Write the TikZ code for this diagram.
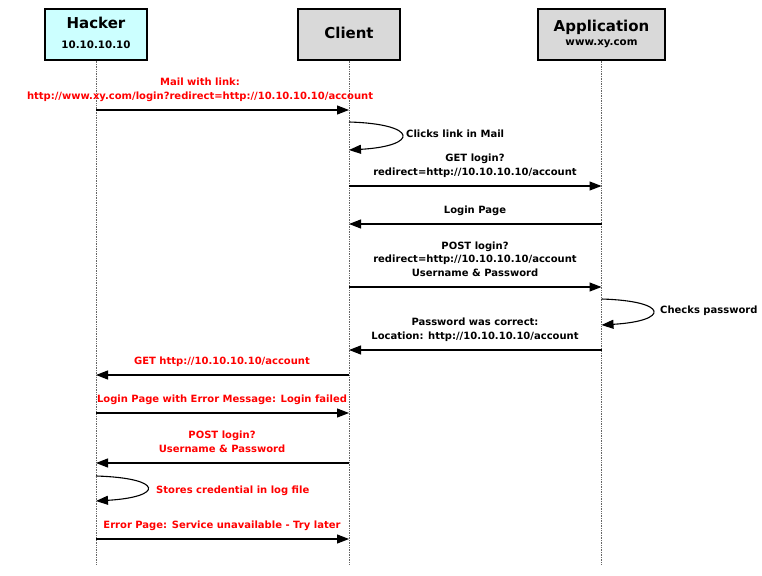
\documentclass[tikz,border=0pt]{standalone}
\usepackage{fontspec}
\setmainfont{DejaVu Sans}
\usetikzlibrary{arrows.meta}
\definecolor{hackercyan}{HTML}{CCFFFF}
\definecolor{boxgray}{HTML}{D9D9D9}
\definecolor{msgred}{HTML}{FF0000}
\tikzset{
  actor/.style={draw, line width=1.3pt, minimum width=#1, minimum height=51pt, inner sep=0pt},
  headtxt/.style={font=\bfseries\fontsize{15}{17}\selectfont, inner sep=0pt},
  subtxt/.style={font=\bfseries\fontsize{10.3}{12}\selectfont, inner sep=0pt},
  lifeline/.style={densely dotted, black!60, line width=0.7pt},
  msg/.style={line width=1.1pt, -{Triangle[length=12pt,width=9pt]}},
  lbl/.style={anchor=south, inner sep=0pt, align=center,
    font=\bfseries\fontsize{10}{13.5}\selectfont, execute at end node=\strut},
  note/.style={anchor=west, inner sep=0pt, font=\bfseries\fontsize{10}{12}\selectfont},
  bad/.style={text=msgred}
}
\begin{document}
\begin{tikzpicture}[x=1pt,y=-1pt]
  \useasboundingbox (0,0) rectangle (762,575);
  % participants
  \node[actor=102pt, fill=hackercyan] (hacker) at (96,34.5) {};
  \node[actor=102pt, fill=boxgray] (client) at (349,34.5) {};
  \node[actor=127pt, fill=boxgray] (app) at (601.5,34.5) {};
  \node[headtxt] at (96,23) {Hacker};
  \node[subtxt] at (96,45) {10.10.10.10};
  \node[headtxt] at (349,33) {Client};
  \node[headtxt] at (601.5,27) {Application};
  \node[subtxt] at (601.5,44) {www.xy.com};
  % lifelines
  \draw[lifeline] (hacker.south) -- (hacker.south |- 0,565);
  \draw[lifeline] (client.south) -- (client.south |- 0,565);
  \draw[lifeline] (app.south) -- (app.south |- 0,565);

  % mail from the hacker
  \draw[msg] (hacker |- 0,110) -- (client |- 0,110);
  \node[lbl, bad] at (200,103.5) {Mail with link:\\http://www.xy.com/login?redirect=http://10.10.10.10/account};
  \draw[msg] (client |- 0,122) .. controls +(70,2) and +(70,-4) .. (client |- 0,150);
  \node[note] at (406,134) {Clicks link in Mail};

  % normal login
  \draw[msg] (client |- 0,186) -- (app |- 0,186);
  \node[lbl] at (475,179.5) {GET login?\\redirect=http://10.10.10.10/account};
  \draw[msg] (app |- 0,224) -- (client |- 0,224);
  \node[lbl] at (475,217.5) {Login Page};
  \draw[msg] (client |- 0,287) -- (app |- 0,287);
  \node[lbl] at (475,280.5) {POST login?\\redirect=http://10.10.10.10/account\\Username \& Password};
  \draw[msg] (app |- 0,299) .. controls +(68,2) and +(68,-4) .. (app |- 0,325);
  \node[note] at (660,311) {Checks password};
  \draw[msg] (app |- 0,350) -- (client |- 0,350);
  \node[lbl] at (475,343.5) {Password was correct:\\Location: http://10.10.10.10/account};

  % redirect to the hacker
  \draw[msg] (client |- 0,375) -- (hacker |- 0,375);
  \node[lbl, bad] at (222,368.5) {GET http://10.10.10.10/account};
  \draw[msg] (hacker |- 0,413) -- (client |- 0,413);
  \node[lbl, bad] at (222,406.5) {Login Page with Error Message: Login failed};
  \draw[msg] (client |- 0,463) -- (hacker |- 0,463);
  \node[lbl, bad] at (222,456.5) {POST login?\\Username \& Password};
  \draw[msg] (hacker |- 0,476) .. controls +(68,2) and +(68,-4) .. (hacker |- 0,501);
  \node[note, bad] at (156,491) {Stores credential in log file};
  \draw[msg] (hacker |- 0,539) -- (client |- 0,539);
  \node[lbl, bad] at (222,532.5) {Error Page: Service unavailable - Try later};
\end{tikzpicture}
\end{document}
